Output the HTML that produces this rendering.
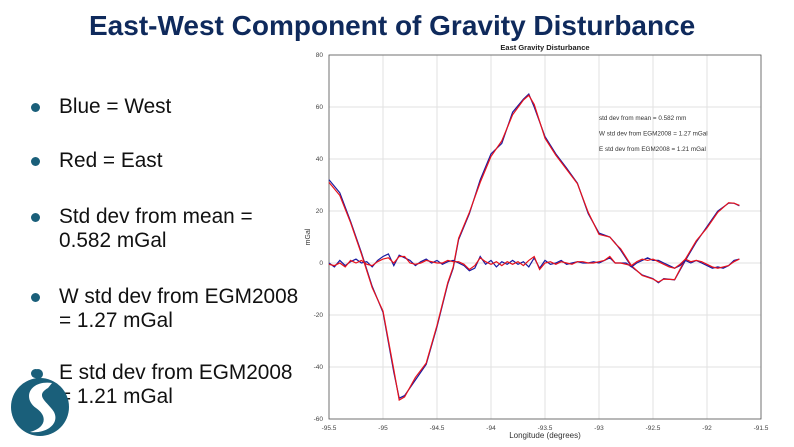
<!DOCTYPE html>
<html><head><meta charset="utf-8"><style>
body{margin:0;background:#fff;}
#root{position:relative;width:794px;height:447px;overflow:hidden;background:#fff;font-family:"Liberation Sans",sans-serif;}
.title{position:absolute;left:89px;top:10px;font-size:28px;font-weight:bold;color:#0f2a5c;white-space:nowrap;}
.b{position:absolute;left:59px;font-size:20.8px;color:#111;line-height:24px;white-space:nowrap;}
.dot{position:absolute;left:31px;width:9px;height:9px;border-radius:50%;background:#1a5f7a;}
svg{position:absolute;left:0;top:0;}
</style></head><body>
<div id="root">
<div class="title">East-West Component of Gravity Disturbance</div>
<div class="dot" style="top:103px"></div>
<div class="b" style="top:95px">Blue = West</div>
<div class="dot" style="top:157px"></div>
<div class="b" style="top:149px">Red = East</div>
<div class="dot" style="top:213px"></div>
<div class="b" style="top:205px">Std dev from mean =<br>0.582 mGal</div>
<div class="dot" style="top:293px"></div>
<div class="b" style="top:285px">W std dev from EGM2008<br>= 1.27 mGal</div>
<div class="dot" style="top:369px"></div>
<div class="b" style="top:361px">E std dev from EGM2008<br>= 1.21 mGal</div>
<svg width="794" height="447" id="chart">
<g>
<circle cx="38" cy="374" r="5" fill="#1a5f7a"/>
<circle cx="40" cy="407" r="29" fill="#1a5f7a"/>
<path d="M52 383 C30 380 22 398 36 408 C48 416 46 428 30 432 C46 434 60 424 54 412 C48 402 34 396 48 388 Z" fill="#fff"/>
</g>
</svg>
</div>
<script>
const xTicks=[-95.5,-95,-94.5,-94,-93.5,-93,-92.5,-92,-91.5];
const xTickLabels=["-95.5","-95","-94.5","-94","-93.5","-93","-92.5","-92","-91.5"];
const yTicks=[80,60,40,20,0,-20,-40,-60];
const mainLon=[-95.5,-95.4,-95.3,-95.2,-95.1,-95.0,-94.9,-94.85,-94.8,-94.7,-94.6,-94.5,-94.4,-94.35,-94.3,-94.2,-94.1,-94.0,-93.9,-93.8,-93.7,-93.65,-93.6,-93.5,-93.4,-93.3,-93.2,-93.1,-93.0,-92.9,-92.85,-92.8,-92.7,-92.6,-92.5,-92.45,-92.4,-92.3,-92.2,-92.1,-92.0,-91.9,-91.8,-91.75,-91.7];
const westMain=[32,27,16,4,-9,-19,-42,-52,-51,-45,-39,-24.5,-8,-2,9,19,32,42,46,58,63,65,60,48.6,42,36.5,30.7,19,11.5,10,7.7,5,-1.4,-4.6,-6,-7.6,-6,-6.5,1,8,14,20,23,23,22];
const eastMain=[31,26,15.5,3.5,-9.5,-18.5,-41,-52.7,-51.5,-44,-38.5,-24,-7.5,-1.5,9.5,19.5,31,41,47,57,62.7,64.5,61,48,41.5,36,30.5,19.5,11,10,7.5,5.5,-1,-4.8,-6.2,-7.3,-6.2,-6.4,1.5,8.5,13.5,19.5,23.2,23,22.2];
const diffLon=[-95.5,-95.45,-95.4,-95.35,-95.3,-95.25,-95.2,-95.15,-95.1,-95.05,-95.0,-94.95,-94.9,-94.85,-94.8,-94.75,-94.7,-94.65,-94.6,-94.55,-94.5,-94.45,-94.4,-94.35,-94.3,-94.25,-94.2,-94.15,-94.1,-94.05,-94.0,-93.95,-93.9,-93.85,-93.8,-93.75,-93.7,-93.65,-93.6,-93.55,-93.5,-93.45,-93.4,-93.35,-93.3,-93.25,-93.2,-93.15,-93.1,-93.05,-93.0,-92.95,-92.9,-92.85,-92.8,-92.75,-92.7,-92.65,-92.6,-92.55,-92.5,-92.45,-92.4,-92.35,-92.3,-92.25,-92.2,-92.15,-92.1,-92.05,-92.0,-91.95,-91.9,-91.85,-91.8,-91.75,-91.7];
const westDiff=[0,-1.5,1,-1,0.5,1.5,0,0.5,-1.5,1,2.5,3.5,-1,3,2,1,-1,0.5,1.5,0,1,-0.5,0.5,1,0,-1,-3,-2,2.5,-0.5,1,-1.5,0.5,-0.5,1,-0.5,0.5,-1.5,2,-2,1,-0.5,0,1,-0.5,0,0.5,0,0,0.5,0,1,2,0,0,0,-1.5,0,1,2,1,1,0,-1,-2,-1,1,0,1,0,-1,-2,-1.5,-2,-1,1,1.5];
const eastDiff=[-0.5,-1,0,-1.5,1,0,1,-0.5,-1,0.5,1.5,2,0,2.5,2.5,0,-0.5,0,1,0.5,0,0,1,0.5,0.5,-0.5,-2.5,-1,2,0.5,-0.5,0.5,-1,0.5,-0.5,0.5,-1,1,2.5,-2.5,0,0.5,-0.5,0.5,0,-0.5,0.5,0.5,0,0,0.5,1,2.5,0,0,-0.5,-1,0.5,1.5,1,1.5,0.5,-0.5,-1.5,-2,-0.5,1.5,0.5,1,0.5,-0.5,-1.5,-2,-1.5,-1,0.5,1.5];

const svg=document.getElementById('chart');
const NS='http://www.w3.org/2000/svg';
const L=329,R=761,T=55,B=419,X0=-95.5,X1=-91.5,Y0=-60,Y1=80;
function sx(v){return L+(v-X0)/(X1-X0)*(R-L);}
function sy(v){return B-(v-Y0)/(Y1-Y0)*(B-T);}
function mk(tag,attrs,parent){const e=document.createElementNS(NS,tag);for(const k in attrs)e.setAttribute(k,attrs[k]);(parent||svg).appendChild(e);return e;}
const grid=mk('g',{});


xTicks.forEach((t,i)=>{
  const l=mk('line',{x1:sx(t),x2:sx(t),y1:T,y2:B,stroke:'#e2e2e2','stroke-width':1},grid);
  
  
  const tx=mk('text',{x:sx(t),y:B+11,'font-size':6.5,'text-anchor':'middle',fill:'#444','font-family':'Liberation Sans, sans-serif'});
  tx.textContent=xTickLabels[i];
  
  
});
yTicks.forEach(t=>{
  const l=mk('line',{x1:L,x2:R,y1:sy(t),y2:sy(t),stroke:'#e2e2e2','stroke-width':1},grid);
  
  
  const tx=mk('text',{x:L-6,y:sy(t)+2,'font-size':6.5,'text-anchor':'end',fill:'#444','font-family':'Liberation Sans, sans-serif'});
  tx.textContent=String(t);
  
  
});
const frame=mk('rect',{x:L,y:T,width:R-L,height:B-T,fill:'none',stroke:'#555','stroke-width':0.8});


function line(xs,ys,color,name){
  const p=mk('polyline',{points:xs.map((x,i)=>sx(x).toFixed(1)+','+sy(ys[i]).toFixed(1)).join(' '),fill:'none',stroke:color,'stroke-width':1.2});
  
  
}
line(mainLon,westMain,'#1a1aa0','west-main-line');
line(mainLon,eastMain,'#e8121a','east-main-line');
line(diffLon,westDiff,'#1a1aa0','west-diff-line');
line(diffLon,eastDiff,'#e8121a','east-diff-line');
const ct=mk('text',{x:545,y:50,'font-size':7.5,'font-weight':'bold','text-anchor':'middle',fill:'#222','font-family':'Liberation Sans, sans-serif'});
ct.textContent='East Gravity Disturbance';


const xl=mk('text',{x:545,y:438,'font-size':8,'text-anchor':'middle',fill:'#333','font-family':'Liberation Sans, sans-serif'});
xl.textContent='Longitude (degrees)';


const yl=mk('text',{x:310,y:237,'font-size':7,'text-anchor':'middle',fill:'#333','font-family':'Liberation Sans, sans-serif',transform:'rotate(-90 310 237)'});
yl.textContent='mGal';


['std dev from mean = 0.582 mm','W std dev from EGM2008 = 1.27 mGal','E std dev from EGM2008 = 1.21 mGal'].forEach((s,i)=>{
  const a=mk('text',{x:599,y:120+i*15.5,'font-size':6.3,fill:'#333','font-family':'Liberation Sans, sans-serif'});
  a.textContent=s;
  
  
});
</script>
</body></html>
